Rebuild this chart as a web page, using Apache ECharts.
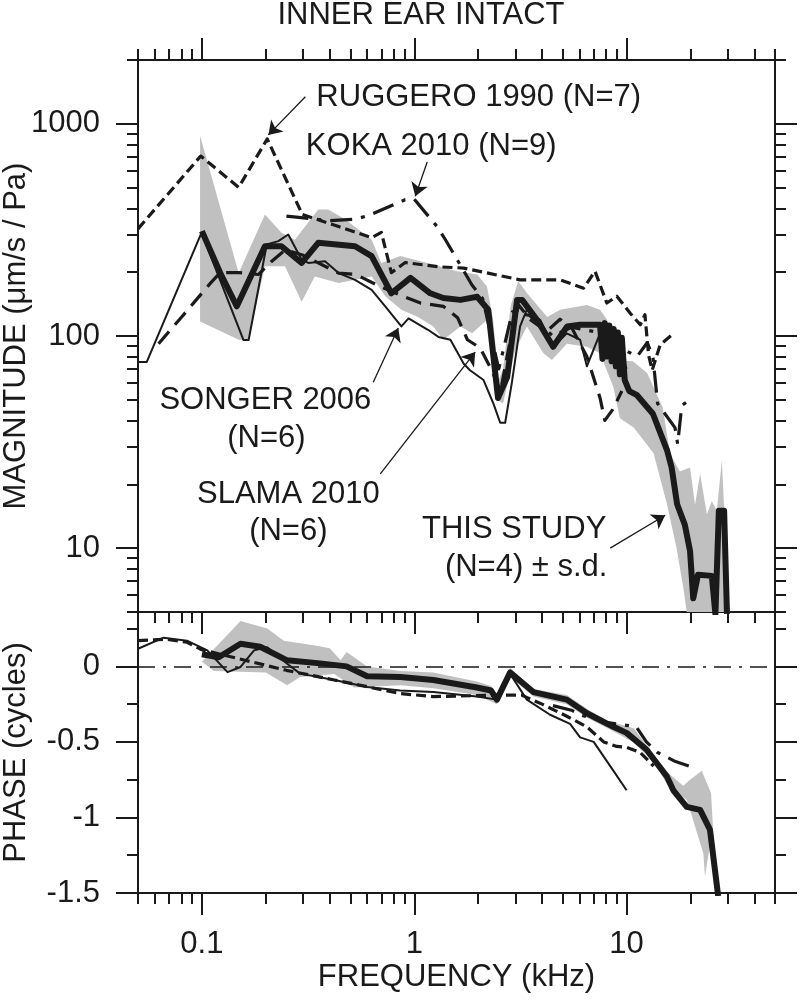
<!DOCTYPE html>
<html><head><meta charset="utf-8">
<script src="https://cdn.jsdelivr.net/npm/echarts@6/dist/echarts.min.js"></script>
<style>html,body{margin:0;padding:0;background:#fff}#c{width:800px;height:1000px}</style>
</head><body><div id="c"></div>
<script>
// ---------------- tick values ----------------
const X_MAJOR = [0.1, 1, 10];
const X_MINOR = [0.05,0.06,0.07,0.08,0.09,0.2,0.3,0.4,0.5,0.6,0.7,0.8,0.9,2,3,4,5,6,7,8,9,20,30,40,50];
const MAG_MAJOR = [10, 100, 1000];
const MAG_MINOR = [5,6,7,8,9,20,30,40,50,60,70,80,90,200,300,400,500,600,700,800,900,2000];
const PH_MAJOR = [0, -0.5, -1, -1.5];
const PH_MINOR = [0.25, -0.25, -0.75, -1.25];

// ---------------- magnitude (um/s / Pa) ----------------
const STUDY_F = [0.1,0.122,0.146,0.198,0.237,0.295,0.353,0.526,0.63,0.78,0.96,1.19,1.37,1.65,1.98,2.23,2.48,2.74,3.05,3.22,3.79,4.51,5.25,6.04,7.5,7.7,7.9,8.1,8.3,8.5,8.7,8.9,9.1,9.3,9.5,9.8,10.3,11.2,13.3,15.5,16.3,17.3,18.8,19.9,20.6,21.7,25.2,26.2,27.2,28.8,29.7];
const STUDY_MAG = [312,198,138,265,265,221,275,265,238,159,188,159,151,148,153,133,51,64,148,148,119,89,111,113,113,78,115,80,112,76,108,72,104,66,98,62,55,52.6,43,29,24,16.1,12.9,9.7,5.8,7.5,7.4,4.9,15,15,4.9];

const BAND_UP_F = [0.098,0.149,0.198,0.237,0.274,0.353,0.394,0.472,0.63,0.70,0.86,1.23,1.59,1.98,2.2,2.35,2.5,2.62,2.85,3.09,3.4,4.23,4.86,6.5,7.5,8.1,8.6,10.7,12.5,14.8,16.0,17.8,19.9,21.0,22.2,23.9,25.2,26.6,28.1,29.0,30.6];
const BAND_UP = [880,198,374,307,284,395,395,355,284,221,238,217,202,195,171,120,62,70,140,181,159,123,133,140,133,119,77,76,67,46,28,23,24,16,22.4,14.4,16.7,15,25.9,13.4,5];
const BAND_LO_F = [0.098,0.149,0.166,0.198,0.246,0.295,0.34,0.44,0.63,0.73,0.87,1.04,1.23,1.37,1.65,1.87,2.2,2.45,2.62,2.99,3.39,4.06,4.45,5.23,6.5,7.5,8.66,9.3,10.8,13.4,15.5,17.2,18.5,19.2,30.6];
const BAND_LO = [117,96,96,213,213,145,191,178,191,154,133,123,111,96,111,103,119,50,48,86,111,83,77,92,89,83,57.5,41,37,28,16.1,10,6.5,5,5];

const RUGGERO_F = [0.05,0.0987,0.149,0.203,0.297,0.327,0.44,0.63,0.70,0.78,0.907,1.30,1.71,3.15,4.87,6.27,7.1,8.07,9.0,10.4,11.6,12.2,12.7,13.2,14.4,16.3];
const RUGGERO_MAG = [320,705,502,849,374,362,328,291,308,199,222,212,209,184,184,168,202,143,154,128,113,126,81,69,91,101];

const KOKA_F = [0.25,0.4,0.526,0.61,0.9,1.0,1.28,1.4,1.7,1.87,2.1,2.5,2.9,3.5,4.5,5.5,7,9,11.2,12.5,13.3,14,16.9,17.4,18.2,20.3];
const KOKA_MAG = [367,350,355,370,438,442,328,285,205,174,150,70,130,125,100,110,105,90,80,93,80,48,37,31,47,51];

const SLAMA_F = [0.0625,0.082,0.094,0.11,0.122,0.149,0.185,0.212,0.247,0.3,0.44,0.53,0.7,0.93,1.07,1.37,1.6,1.78,2.04,2.3,2.55,2.8,3.1,3.5,4.2,4.86,5.5,6.5,7.5,7.9,8.6,9.5];
const SLAMA_MAG = [92,126,148,178,199,199,195,224,255,240,198,195,170,151,143,138,122,96,88,70,55,90,140,120,105,120,110,80,51,40,45,55];

const SONGER_F = [0.05,0.055,0.0996,0.157,0.166,0.202,0.229,0.255,0.295,0.317,0.38,0.44,0.526,0.63,0.73,0.87,0.94,1.16,1.30,1.48,1.71,1.83,2.12,2.36,2.54,2.68,2.88,3.15,3.39,3.92,4.52,5.23,6.04,6.5,7.5,8.07,9.0,10];
const SONGER_MAG = [75.5,75.5,307,95.7,95.7,270,280,301,229,221,225,198,184,165,138,111,121,107,99,96,74,69,62,48,39,39,60,111,133,119,89,103,96,72,103,89,95,70];

// ---------------- phase (cycles) ----------------
const PH_STUDY_F = [0.1,0.12,0.152,0.188,0.252,0.36,0.48,0.6,0.86,1.23,1.97,2.3,2.45,2.83,3.64,5.23,6.5,8.66,10,12.4,15.5,16.6,19.2,22.2,24.7,27];
const PH_STUDY = [0.08,0.06,0.15,0.13,0.04,0.02,0.0,-0.065,-0.07,-0.09,-0.14,-0.16,-0.22,-0.04,-0.17,-0.22,-0.31,-0.40,-0.44,-0.55,-0.73,-0.82,-0.93,-0.95,-1.08,-1.52];
const PH_BAND_UP_F = [0.1,0.152,0.203,0.243,0.336,0.40,0.45,0.48,0.6,0.86,1.23,1.97,2.3,2.45,2.83,3.64,5.23,6.5,8.1,10.8,12.4,15.5,18.5,19.9,22.6,25,25.5];
const PH_BAND_UP = [0.03,0.30,0.25,0.17,0.14,0.12,0.04,0.095,0.0,-0.03,-0.04,-0.10,-0.13,-0.2,-0.01,-0.15,-0.19,-0.28,-0.36,-0.41,-0.52,-0.70,-0.79,-0.75,-0.69,-0.84,-1.06];
const PH_BAND_LO_F = [0.1,0.114,0.2,0.252,0.29,0.42,0.52,0.86,1.23,1.97,2.45,2.83,3.64,5.23,6.5,8.66,10.7,13.4,15.5,19.2,19.9,23,23.4];
const PH_BAND_LO = [0.03,-0.03,-0.04,-0.125,-0.07,-0.05,-0.14,-0.125,-0.145,-0.19,-0.25,-0.07,-0.20,-0.25,-0.34,-0.43,-0.50,-0.63,-0.78,-0.885,-0.95,-1.24,-1.39];
const PH_RUGGERO_F = [0.05,0.068,0.085,0.1,0.25,0.42,0.86,1.23,2.54,3.2,4.0,5.23,6.5,7.8,9.0,10.0,11.6,13.4];
const PH_RUGGERO = [0.17,0.18,0.16,0.11,-0.026,-0.09,-0.18,-0.20,-0.19,-0.19,-0.25,-0.33,-0.40,-0.50,-0.53,-0.535,-0.57,-0.66];
const PH_SONGER_F = [0.05,0.066,0.085,0.106,0.132,0.152,0.176,0.203,0.252,0.29,0.42,0.6,0.86,1.23,1.97,2.45,2.83,3.39,4.36,5.42,6.04,7.0,8.66,10];
const PH_SONGER = [0.117,0.19,0.17,0.106,-0.038,-0.004,0.106,0.127,0.018,-0.048,-0.09,-0.137,-0.16,-0.17,-0.20,-0.22,-0.05,-0.22,-0.32,-0.38,-0.47,-0.50,-0.69,-0.82];
const PH_KOKA_F = [4.5,5.5,6.04,8,10,11.1,12.4,14,17,19.7];
const PH_KOKA = [-0.26,-0.29,-0.32,-0.37,-0.39,-0.40,-0.50,-0.57,-0.63,-0.66];
const PH_REFERENCE = 0;

// ---------------- annotations (data coordinates of the magnitude panel) ----------------
const LABELS = [
  {text: 'RUGGERO 1990 (N=7)', at: [2.012, 1336]},
  {text: 'KOKA 2010 (N=9)', at: [1.202, 786]},
  {text: 'SONGER 2006', at: [0.199, 49.7]},
  {text: '(N=6)', at: [0.2013, 32.9]},
  {text: 'SLAMA 2010', at: [0.2553, 18.0]},
  {text: '(N=6)', at: [0.2553, 12.04]},
  {text: 'THIS STUDY', at: [2.955, 12.3]},
  {text: '(N=4) \u00b1 s.d.', at: [3.366, 8.13]}
];
const ARROWS = [
  [[0.307, 1343], [0.2056, 887]],
  [[1.151, 661], [1.011, 456]],
  [[0.641, 60.5], [0.841, 109]],
  [[0.692, 22.4], [1.936, 84]],
  [[8.37, 10], [15.2, 14.3]]
];

// ---------------- build chart ----------------
const INK = '#1a1a1a', GRAY = '#c0c0c0';
const FONT = '"Liberation Sans", Arial, Helvetica, sans-serif';
const FS = 31;
const zip = (a, b) => a.map((x, i) => [x, b[i]]);
const fmt = v => String(+Number(v).toPrecision(3));

const chart = echarts.init(document.getElementById('c'), null, {renderer: 'canvas', width: 800, height: 1000});

function axisBase(kind, grid, position, ticks, len, minV, maxV) {
  return {
    type: kind, gridIndex: grid, position: position, min: minV, max: maxV,
    axisLine: {show: true, onZero: false, lineStyle: {color: INK, width: 2}},
    axisTick: {show: true, inside: false, length: len, customValues: ticks, lineStyle: {color: INK, width: 2}},
    axisLabel: {show: false},
    splitLine: {show: false}, minorTick: {show: false}, minorSplitLine: {show: false},
    nameMoveOverlap: false,
    silent: true
  };
}
const labelStyle = (margin) => ({show: true, margin: margin, fontSize: FS, fontFamily: FONT, color: INK, formatter: fmt});
const nameStyle = {fontSize: FS, fontFamily: FONT, color: INK};

const xAxes = [
  axisBase('log', 0, 'bottom', X_MAJOR, 22, 0.05, 50),
  axisBase('log', 0, 'bottom', X_MINOR, 11, 0.05, 50),
  axisBase('log', 0, 'top', X_MAJOR, 22, 0.05, 50),
  axisBase('log', 0, 'top', X_MINOR, 11, 0.05, 50),
  Object.assign(axisBase('log', 1, 'bottom', X_MAJOR, 22, 0.05, 50), {
    axisLabel: Object.assign(labelStyle(36), {customValues: X_MAJOR}),
    name: 'FREQUENCY (kHz)', nameLocation: 'middle', nameGap: 69, nameTextStyle: nameStyle
  }),
  axisBase('log', 1, 'bottom', X_MINOR, 11, 0.05, 50)
];
const yAxes = [
  Object.assign(axisBase('log', 0, 'left', MAG_MAJOR, 22, 5, 2000), {
    axisLabel: Object.assign(labelStyle(38), {customValues: MAG_MAJOR}),
    name: 'MAGNITUDE (\u03bcm/s / Pa)', nameLocation: 'middle', nameGap: 106, nameTextStyle: nameStyle
  }),
  axisBase('log', 0, 'left', MAG_MINOR, 11, 5, 2000),
  axisBase('log', 0, 'right', MAG_MAJOR, 22, 5, 2000),
  axisBase('log', 0, 'right', MAG_MINOR, 11, 5, 2000),
  Object.assign(axisBase('value', 1, 'left', PH_MAJOR, 22, -1.5, 0.36), {
    axisLabel: Object.assign(labelStyle(38), {customValues: PH_MAJOR}),
    name: 'PHASE (cycles)', nameLocation: 'middle', nameGap: 106, nameTextStyle: nameStyle
  }),
  axisBase('value', 1, 'left', PH_MINOR, 11, -1.5, 0.36),
  axisBase('value', 1, 'right', PH_MAJOR, 22, -1.5, 0.36),
  axisBase('value', 1, 'right', PH_MINOR, 11, -1.5, 0.36)
];

function band(xi, yi, upF, up, loF, lo) {
  const pts = zip(upF, up).concat(zip(loF, lo).reverse());
  return {
    type: 'custom', xAxisIndex: xi, yAxisIndex: yi, z: 1, silent: true, clip: true,
    encode: {x: 0, y: 1}, data: pts,
    renderItem: function (params, api) {
      if (params.dataIndex !== 0) return null;
      return {type: 'polygon', shape: {points: pts.map(p => api.coord(p))}, style: {fill: GRAY, stroke: null}};
    }
  };
}
function line(xi, yi, f, v, width, type, z) {
  return {
    type: 'line', xAxisIndex: xi, yAxisIndex: yi, data: zip(f, v), z: z,
    showSymbol: false, symbol: 'none', silent: true, clip: true,
    lineStyle: {color: INK, width: width, type: type, cap: 'butt', join: 'round'},
    emphasis: {disabled: true}
  };
}

const studyMag = line(0, 0, STUDY_F, STUDY_MAG, 6, 'solid', 6);
studyMag.markLine = {
  silent: true, symbol: ['none', 'arrow'], symbolSize: 13, animation: false,
  label: {show: false}, emphasis: {disabled: true},
  lineStyle: {color: INK, width: 1.3, type: 'solid'},
  data: ARROWS.map(a => [{coord: a[0]}, {coord: a[1]}])
};
const studyPh = line(4, 4, PH_STUDY_F, PH_STUDY, 6, 'solid', 6);
studyPh.markLine = {
  silent: true, symbol: 'none', animation: false, label: {show: false}, emphasis: {disabled: true},
  lineStyle: {color: INK, width: 1.5, type: [17, 8, 3, 8]},
  data: [{yAxis: PH_REFERENCE}]
};

const option = {
  animation: false,
  backgroundColor: '#ffffff',
  textStyle: {fontFamily: FONT},
  grid: [
    {left: 138, top: 60, width: 637, height: 552, containLabel: false, outerBoundsMode: 'none'},
    {left: 138, top: 612, width: 637, height: 281, containLabel: false, outerBoundsMode: 'none'}
  ],
  xAxis: xAxes,
  yAxis: yAxes,
  series: [
    band(0, 0, BAND_UP_F, BAND_UP, BAND_LO_F, BAND_LO),
    line(0, 0, RUGGERO_F, RUGGERO_MAG, 3.2, [10, 5], 3),
    line(0, 0, KOKA_F, KOKA_MAG, 3.2, [22, 9, 4, 9], 3),
    line(0, 0, SLAMA_F, SLAMA_MAG, 3.2, [16, 9], 3),
    line(0, 0, SONGER_F, SONGER_MAG, 2, 'solid', 4),
    studyMag,
    band(4, 4, PH_BAND_UP_F, PH_BAND_UP, PH_BAND_LO_F, PH_BAND_LO),
    line(4, 4, PH_RUGGERO_F, PH_RUGGERO, 3.2, [10, 5], 3),
    line(4, 4, PH_KOKA_F, PH_KOKA, 3.2, [22, 9, 4, 9], 3),
    line(4, 4, PH_SONGER_F, PH_SONGER, 2, 'solid', 4),
    studyPh
  ]
};
chart.setOption(option);

const graphics = [{
  type: 'text', x: 421, y: 15.5, silent: true,
  style: {text: 'INNER EAR INTACT', fontSize: FS, fontFamily: FONT, fill: INK, align: 'center', verticalAlign: 'middle'}
}];
LABELS.forEach(l => {
  const p = chart.convertToPixel({xAxisIndex: 0, yAxisIndex: 0}, l.at);
  graphics.push({
    type: 'text', x: p[0], y: p[1], silent: true,
    style: {text: l.text, fontSize: FS, fontFamily: FONT, fill: INK, align: 'center', verticalAlign: 'middle'}
  });
});
chart.setOption({graphic: graphics});
</script>
</body></html>
